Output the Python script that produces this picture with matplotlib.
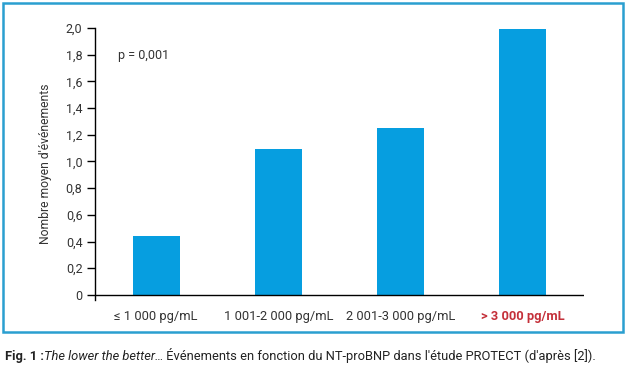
import matplotlib
matplotlib.use("Agg")
import matplotlib.pyplot as plt
from matplotlib.patches import Rectangle

categories = ["≤ 1 000 pg/mL", "1 001-2 000 pg/mL", "2 001-3 000 pg/mL", "> 3 000 pg/mL"]
values = [0.44, 1.09, 1.25, 1.99]
yticks = [0, 0.2, 0.4, 0.6, 0.8, 1.0, 1.2, 1.4, 1.6, 1.8, 2.0]
ytick_labels = ["0", "0,2", "0,4", "0,6", "0,8", "1,0", "1,2", "1,4", "1,6", "1,8", "2,0"]

plt.rcParams['font.family'] = ['Roboto', 'DejaVu Sans']
W, H = 627, 370
fig = plt.figure(figsize=(W/100, H/100), dpi=100)

# frame border
fig.patches.append(Rectangle((3/W, (H-332)/H), 620/W, 329/H, transform=fig.transFigure,
                             fill=False, edgecolor='#2a9fd0', linewidth=1.8))

ax = fig.add_axes([95/W, 69.7/H, (584-95)/W, (342-69.7)/H])
x = range(len(categories))
ax.bar(x, values, width=0.385, color='#069ee0', zorder=2)
ax.set_xlim(-0.5, 3.5)
ax.set_ylim(-0.04, 2.0)
ax.axhline(0, color='black', linewidth=1.0, zorder=3)
for s in ['top', 'right', 'bottom']:
    ax.spines[s].set_visible(False)
ax.spines['left'].set_linewidth(1.0)
ax.set_yticks(yticks)
ax.set_yticklabels(ytick_labels, fontsize=9, color='#333333')
ax.tick_params(axis='y', length=6, width=1.0, pad=3)
ax.set_xticks(list(x))
ax.set_xticklabels(categories, fontsize=9.3, color='#333333')
ax.tick_params(axis='x', length=0, pad=7)
lbl = ax.get_xticklabels()[-1]
lbl.set_color('#c4303a')
lbl.set_fontweight('bold')
ax.set_ylabel("Nombre moyen d'événements", fontsize=8.7, color='#333333', labelpad=10)
fig.text(118/W, (H-59)/H, "p = 0,001", fontsize=9, color='#333333')

# caption
fig.canvas.draw()
r = fig.canvas.get_renderer()
xpos = 5
ypos = (H-360)/H
parts = [("Fig. 1 :", 'normal', 'bold'), ("The lower the better…", 'italic', 'normal'),
         (" Événements en fonction du NT-proBNP dans l'étude PROTECT (d'après [2]).", 'normal', 'normal')]
for txt, st, wt in parts:
    t = fig.text(xpos/W, ypos, txt, fontsize=9.3, style=st, fontweight=wt, color='#222222')
    bb = t.get_window_extent(renderer=r)
    xpos += bb.width

fig.savefig("out.png", dpi=100)
